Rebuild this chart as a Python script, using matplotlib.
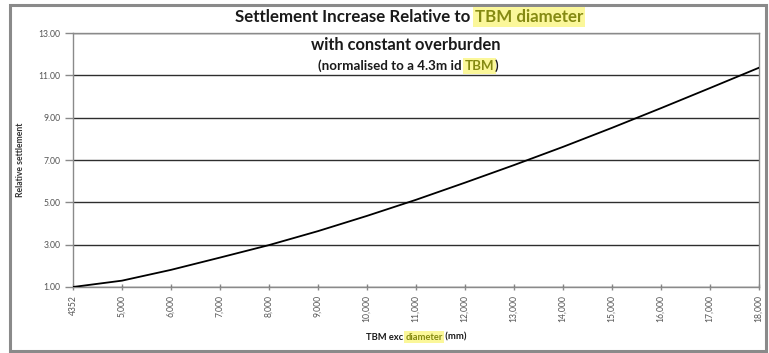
import matplotlib
matplotlib.use("Agg")
import matplotlib.pyplot as plt
from matplotlib.patches import Rectangle

# TBM excavated diameter categories (mm) and settlement relative to a 4.3 m TBM
diameter_labels = ["4352", "5,000", "6,000", "7,000", "8,000", "9,000", "10,000",
                   "11,000", "12,000", "13,000", "14,000", "15,000", "16,000",
                   "17,000", "18,000"]
relative_settlement = [1.00, 1.30, 1.81, 2.39, 2.98, 3.64, 4.36, 5.12, 5.93,
                       6.76, 7.62, 8.52, 9.45, 10.40, 11.36]
y_ticks = [1, 3, 5, 7, 9, 11, 13]

W, H = 769, 353
FONT = "Lato"
OLIVE = "#858a12"
HILITE = "#fbf79a"

plt.rcParams["font.family"] = [FONT, "DejaVu Sans"]

fig = plt.figure(figsize=(W / 100, H / 100), dpi=100)
renderer = fig.canvas.get_renderer()

# outer chart frame
fig.patches.append(Rectangle((10 / W, 2 / H), 756 / W, 346 / H,
                             transform=fig.transFigure, fill=False,
                             edgecolor="#8a8a8a", linewidth=2.2))

left, right, top, bottom = 73, 759, 33, 287
ax = fig.add_axes([left / W, 1 - bottom / H, (right - left) / W, (bottom - top) / H])

xs = list(range(len(diameter_labels)))
ax.plot(xs, relative_settlement, color="black", linewidth=1.3, zorder=3)

ax.set_xlim(0, len(xs) - 1)
ax.set_ylim(1, 13)
ax.set_yticks(y_ticks)
ax.set_yticklabels([f"{v:.2f}" for v in y_ticks])
ax.set_xticks(xs)
ax.set_xticklabels(diameter_labels, rotation=90)

ax.yaxis.grid(True, color="#2e2e2e", linewidth=1.0)
ax.set_axisbelow(True)
for side in ["left", "right", "bottom", "top"]:
    ax.spines[side].set_color("#8a8a8a")
    ax.spines[side].set_linewidth(1.0)

ax.tick_params(axis="y", direction="out", length=6, width=1, color="#8a8a8a",
               labelsize=6.2, labelcolor="#555555", pad=3)
ax.tick_params(axis="x", direction="inout", length=5, width=1, color="#8a8a8a",
               labelsize=6.2, labelcolor="#555555", pad=3)

ax.set_ylabel("Relative settlement", fontsize=6.2, fontweight="bold",
              color="#333333", labelpad=10)


def text_width(s, size):
    """Advance width in pixels of s, spaces included."""
    t = fig.text(0, 0, "|" + s + "|", fontsize=size, fontweight="bold")
    w = t.get_window_extent(renderer).width
    t.remove()
    t = fig.text(0, 0, "||", fontsize=size, fontweight="bold")
    w -= t.get_window_extent(renderer).width
    t.remove()
    return w


def rich_line(pieces, cx, cy, target_width, size_guess=10):
    """Draw a centred line made of (text, highlighted) pieces."""
    full = "".join(p for p, _ in pieces)
    size = size_guess * target_width / text_width(full, size_guess)
    widths = [text_width(p, size) for p, _ in pieces]
    x = cx - sum(widths) / 2
    for (p, hl), w in zip(pieces, widths):
        kw = {}
        if hl:
            kw["bbox"] = dict(boxstyle="square,pad=0.12", fc=HILITE, ec="none")
        fig.text(x / W, 1 - cy / H, p, fontsize=size, fontweight="bold",
                 color=OLIVE if hl else "#1a1a1a", ha="left", va="center", **kw)
        x += w


rich_line([("Settlement Increase Relative to ", False), ("TBM diameter", True)],
          409, 17, 348, 11)
rich_line([("with constant overburden", False)], 406, 45, 191, 10)
rich_line([("(normalised to a 4.3m id ", False), ("TBM", True), (")", False)],
          408, 66, 181, 7)
rich_line([("TBM exc ", False), ("diameter", True), (" (mm)", False)],
          416, 337, 100, 6)

fig.savefig("out.png", dpi=100)
